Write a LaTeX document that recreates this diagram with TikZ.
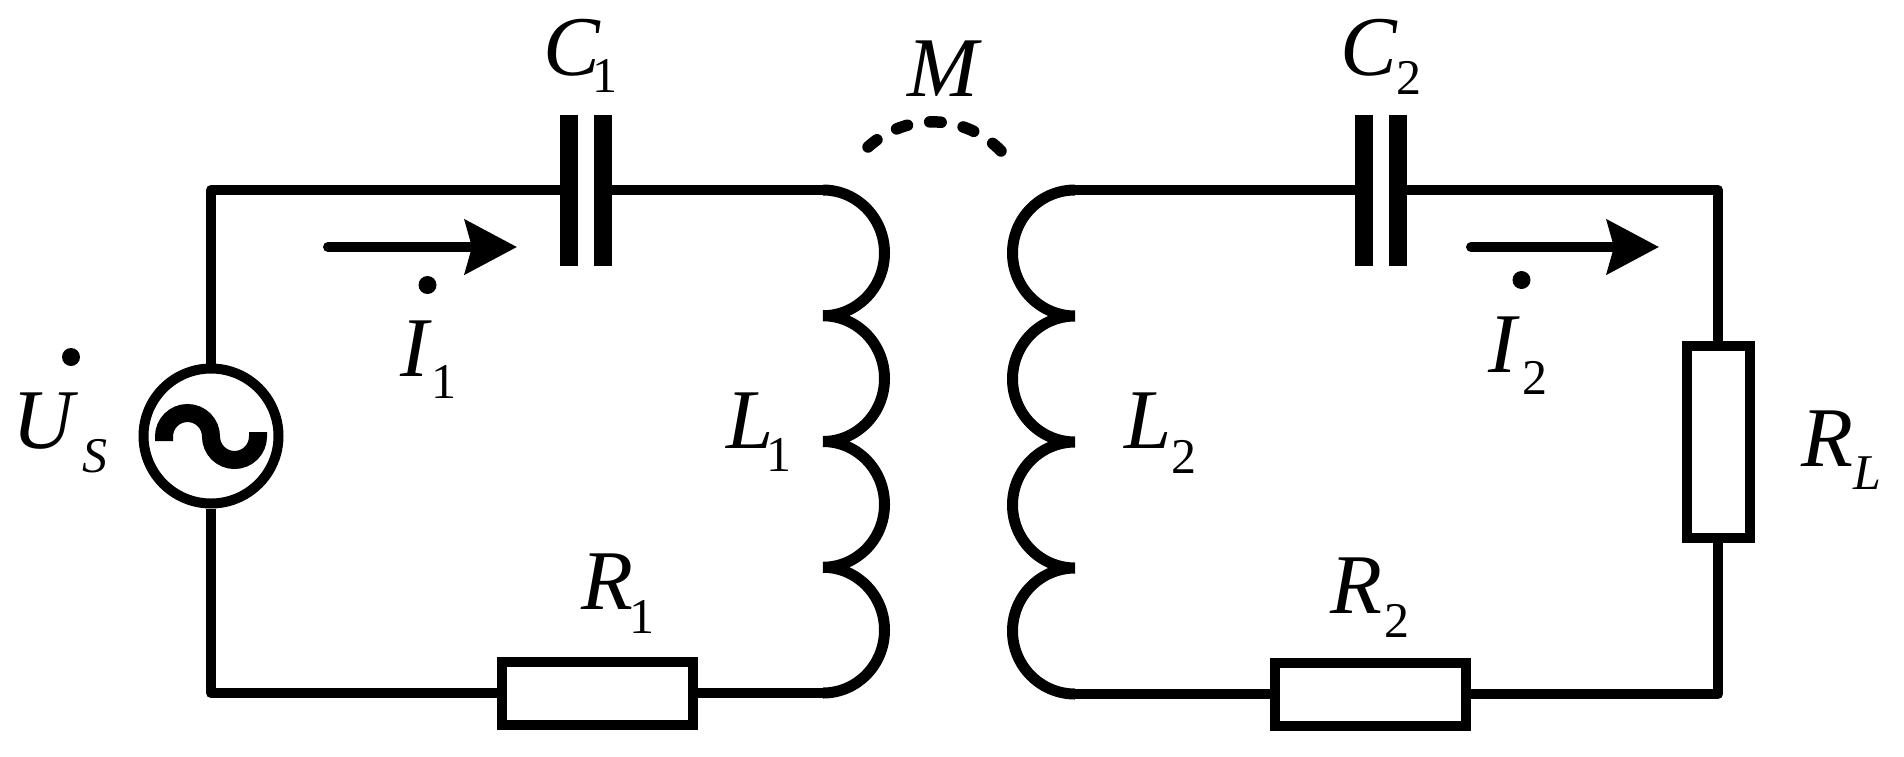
\documentclass[tikz,border=0pt]{standalone}
\usepackage{xcolor}
\usepackage{fontspec}
\setmainfont{Liberation Serif}
\usetikzlibrary{arrows.meta}

\newcommand{\lbl}[4]{\textit{#1}\kern#3pt\raisebox{-#4pt}{\fontsize{50}{50}\selectfont #2}}

\tikzset{
	wire/.style={line width=10pt, line join=round},
	coil/.style={line width=11pt},
	plate/.style={fill=black, inner sep=0pt, minimum width=18pt, minimum height=151pt},
	res/.style={draw, line width=10pt, fill=white, inner sep=0pt, minimum width=191pt, minimum height=63pt},
	cur/.style={wire, line cap=round, -{Stealth[length=52pt, width=54pt, inset=7pt]}},
	dotmark/.style={circle, fill=black, inner sep=0pt, minimum size=18pt},
	lab/.style={anchor=base west, inner sep=0pt, font=\fontsize{85}{85}\selectfont},
}

\begin{document}
\begin{tikzpicture}[x=1pt, y=-1pt]
	\useasboundingbox (0,0) rectangle (1904,756);
	% parts
	\node[draw, line width=10pt, circle, inner sep=0pt, minimum size=135pt] (src) at (211,436) {};
	\node[plate] (c1a) at (569,190) {};
	\node[plate] (c1b) at (603,190) {};
	\node[plate] (c2a) at (1364,190) {};
	\node[plate] (c2b) at (1398,190) {};
	\node[res] (r1) at (597.5,693) {};
	\node[res] (r2) at (1370,694) {};
	\node[res, minimum width=63pt, minimum height=192pt] (rl) at (1718,442) {};
	\coordinate (l1top) at (823,190);
	\coordinate (l2top) at (1075,190);
	% source symbol
	\draw[line width=18pt] (164,441) -- (164,436.5) arc[start angle=-180, end angle=0, radius=23.5] arc[start angle=180, end angle=0, radius=23.5] -- (258,432);
	% coils
	\draw[coil] (l1top)
		\foreach \k in {1,...,4} {arc[start angle=-90, end angle=90, x radius=61.5, y radius=62.875]} coordinate (l1bot);
	\draw[coil] (l2top)
		\foreach \k in {1,...,4} {arc[start angle=-90, end angle=-270, x radius=62.5, y radius=63]} coordinate (l2bot);
	% wires
	\draw[wire] (src.north) |- (c1a.west);
	\draw[wire] (c1b.east) -- (l1top);
	\draw[wire] (src.south) |- (r1.west);
	\draw[wire] (r1.east) -- (l1bot);
	\draw[wire] (l2top) -- (c2a.west);
	\draw[wire] (c2b.east) -| (rl.north);
	\draw[wire] (rl.south) |- (r2.east);
	\draw[wire] (r2.west) -- (l2bot);
	% currents
	\coordinate (i1s) at (328,247);
	\coordinate (i1e) at (517,247);
	\coordinate (i2s) at (1471,247);
	\coordinate (i2e) at (1659,247);
	\draw[cur] (i1s) -- (i1e);
	\draw[cur] (i2s) -- (i2e);
	\node[dotmark] (d1) at (427.5,285) {};
	\node[dotmark] (d2) at (1521.5,280) {};
	\node[dotmark] (du) at (71,357) {};
	% mutual
	\coordinate (ma) at (868,147);
	\coordinate (mb) at (1001,151);
	\draw[line width=11.5pt, line cap=round, dash pattern=on 11.5pt off 22.5pt] (ma) to[bend left=44] (mb);
	% labels
	\node[lab] (lc1) at (543,75) {\lbl{C}{1}{-8}{17}};
	\node[lab] (lc2) at (1340,75) {\lbl{C}{2}{-1.5}{19}};
	\node[lab] (li1) at (400,376) {\lbl{I}{1}{0}{22}};
	\node[lab] (li2) at (1488,372) {\lbl{I}{2}{3}{22}};
	\node[lab] (ll1) at (726,448) {\lbl{L}{1}{-6.5}{23}};
	\node[lab] (ll2) at (1124,448) {\lbl{L}{2}{0}{25}};
	\node[lab] (lr1) at (581,609) {\lbl{R}{1}{-4}{24}};
	\node[lab] (lr2) at (1330,613) {\lbl{R}{2}{2}{24}};
	\node[lab] (lrl) at (1801.5,466.5) {\lbl{R}{\textit{L}}{0}{22.5}};
	\node[lab] (lus) at (12.5,448) {\lbl{U}{\textit{S}}{4}{24}};
	\node[lab] (lm) at (907,96) {\textit{M}};
\end{tikzpicture}
\end{document}
